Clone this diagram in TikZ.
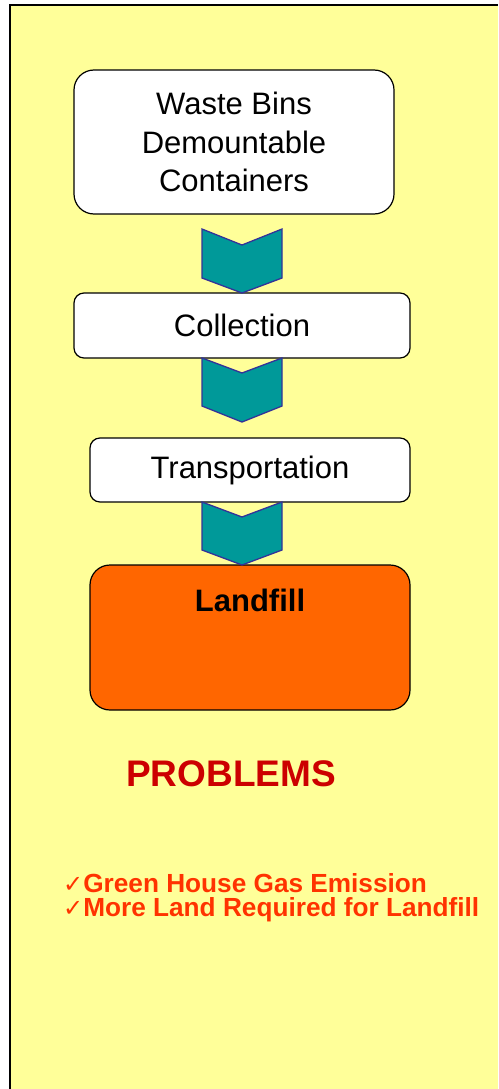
\documentclass[tikz,border=0pt]{standalone}
\usepackage{fontspec}
\setmainfont{Liberation Sans}
\newfontfamily\symfont{DejaVu Sans}
\usetikzlibrary{positioning}
\definecolor{paleyellow}{HTML}{FFFF99}
\definecolor{chevfill}{HTML}{009999}
\definecolor{chevline}{HTML}{333399}
\definecolor{landorange}{HTML}{FF6600}
\definecolor{probred}{HTML}{CC0000}
\definecolor{listred}{HTML}{FF3300}
\tikzset{
  stagebox/.style={draw=black,line width=1.2pt,fill=white,rounded corners=10pt,inner sep=0pt,align=center,font=\fontsize{31}{38.5}\selectfont},
  chev/.style={draw=chevline,fill=chevfill,line width=1.3pt,line join=miter},
  probitem/.style={anchor=base west,inner sep=0pt,text height=18pt,text depth=5pt,text=listred,font=\bfseries\fontsize{26.2}{24}\selectfont}
}
\newcommand{\chk}{{\symfont\fontsize{24}{24}\selectfont ✓}}

\begin{document}
\begin{tikzpicture}[x=1pt,y=-1pt]
\path[use as bounding box] (0,0) rectangle (498,1089);
\fill[paleyellow] (10,5) rectangle (498,1089);
\draw[line width=2pt] (10,1089) -- (10,5) -- (498,5);
% stages
\node[stagebox,rounded corners=20pt,minimum width=320pt,minimum height=144pt] (bins) at (234,142) {Waste Bins\\Demountable\\Containers};
\node[stagebox,minimum width=336pt,minimum height=65pt] (collect) at (242,325.5) {Collection};
\node[stagebox,minimum width=320pt,minimum height=64pt] (transport) at (250,470) {Transportation};
\node[stagebox,rounded corners=20pt,fill=landorange,minimum width=320pt,minimum height=145pt] (landfill) at (250,637.5) {};
\node[font=\bfseries\fontsize{31}{34}\selectfont,inner sep=0pt] (landlbl) at ([yshift=-36pt]landfill.north) {Landfill};
% chevrons
\draw[chev] (202,229) -- (242,245) -- (282,229) -- (282,278) -- (242,293) -- (202,278) -- cycle;
\draw[chev] (202,358) -- (242,373) -- (282,358) -- (282,406) -- (242,422) -- (202,406) -- cycle;
\draw[chev] (202,502) -- (242,517) -- (282,502) -- (282,550) -- (242,565) -- (202,550) -- cycle;
% problems
\node[font=\bfseries\fontsize{37}{40}\selectfont,text=probred,inner sep=0pt] (problems) at (231,774) {PROBLEMS};
\node[probitem] (problem1) at (63,892) {\chk Green House Gas Emission};
\node[probitem] (problem2) at ([yshift=-24pt]problem1.base west) {\chk More Land Required for Landfill};
\end{tikzpicture}
\end{document}
